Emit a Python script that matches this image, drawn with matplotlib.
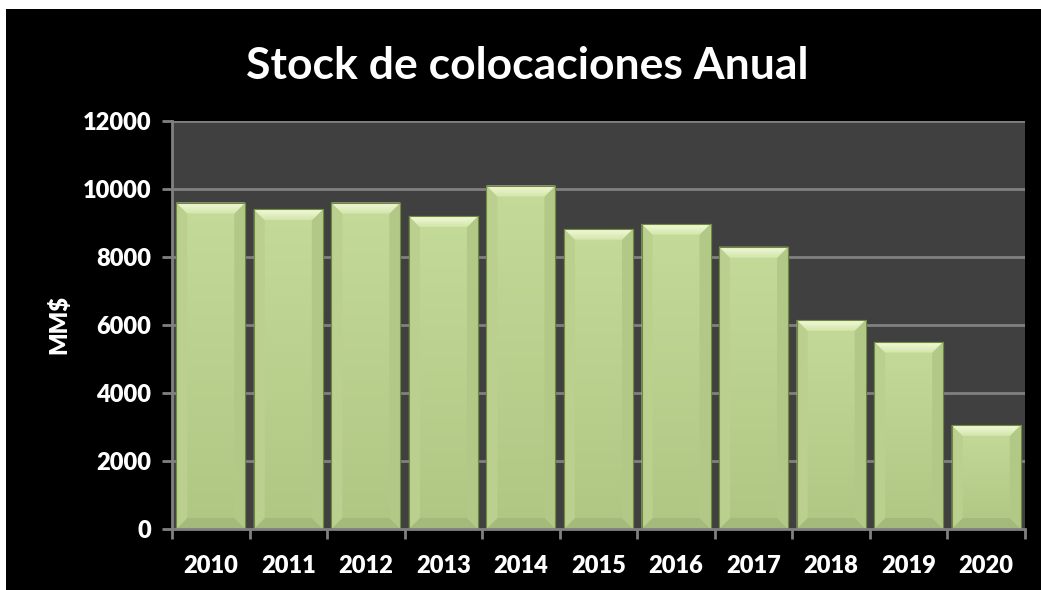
import numpy as np
import matplotlib.pyplot as plt
from matplotlib.patches import Polygon, Rectangle
from matplotlib.colors import LinearSegmentedColormap

years = ['2010', '2011', '2012', '2013', '2014', '2015', '2016', '2017', '2018', '2019', '2020']
stock = [9600, 9400, 9600, 9200, 10100, 8830, 8980, 8300, 6150, 5510, 3060]
yticks = [0, 2000, 4000, 6000, 8000, 10000, 12000]

plt.rcParams['font.family'] = ['Lato', 'DejaVu Sans']
plt.rcParams['font.weight'] = 'bold'

fig = plt.figure(figsize=(10.41, 5.90), dpi=100, facecolor='white')
# black chart area (thin white margin at top and left)
fig.patches.append(Rectangle((6 / 1041, 0), 1, (590 - 9) / 590, transform=fig.transFigure,
                             facecolor='black', edgecolor='none', zorder=-5))

ax = fig.add_axes([172 / 1041, 61 / 590, 853 / 1041, 408 / 590])
ax.set_facecolor('#404040')
ax.set_xlim(-0.5, len(years) - 0.5)
ax.set_ylim(0, 12000)

grid = '#808080'
for v in yticks[1:]:
    ax.axhline(v, color=grid, lw=2, zorder=1)

x = np.arange(len(years))
width = 0.89
bars = ax.bar(x, stock, width=width, color='#c2d795', edgecolor='#6f8a3e', lw=0.8, zorder=2)

# bevel sizes in data units from a pixel size
bev = 11
ax_w = 853
ax_h = 408
dx = bev / ax_w * len(years)
dy = bev / ax_h * 12000

cmap = LinearSegmentedColormap.from_list('g', ['#c4da98', '#b0c784'])
topmap = LinearSegmentedColormap.from_list('t', ['#f4fadb', '#d2e5aa'])
for b in bars:
    x0 = b.get_x()
    x1 = x0 + b.get_width()
    h = b.get_height()
    grad = np.linspace(0, 1, 100).reshape(-1, 1)
    im = ax.imshow(grad, extent=[x0, x1, 0, h], origin='upper', aspect='auto',
                   cmap=cmap, zorder=2.1)
    im.set_clip_path(b)
    top = Polygon([(x0, h), (x1, h), (x1 - dx, h - dy), (x0 + dx, h - dy)],
                  closed=True, facecolor='none', edgecolor='none', zorder=2.2)
    ax.add_patch(top)
    tim = ax.imshow(grad, extent=[x0, x1, h - dy, h], origin='upper', aspect='auto',
                    cmap=topmap, zorder=2.25)
    tim.set_clip_path(top)
    bottom = Polygon([(x0, 0), (x1, 0), (x1 - dx, dy), (x0 + dx, dy)],
                     closed=True, facecolor='#a3ba7c', edgecolor='none', zorder=2.2)
    left = Polygon([(x0, 0), (x0 + dx, dy), (x0 + dx, h - dy), (x0, h)],
                   closed=True, facecolor='#bbd08f', edgecolor='none', zorder=2.2)
    right = Polygon([(x1, 0), (x1 - dx, dy), (x1 - dx, h - dy), (x1, h)],
                    closed=True, facecolor='#b2c887', edgecolor='none', zorder=2.2)
    for p in (bottom, left, right):
        ax.add_patch(p)
    ax.add_patch(Rectangle((x0, 0), x1 - x0, h, facecolor='none', edgecolor='#6f8a3e',
                           lw=0.8, zorder=2.3))

for s in ('top', 'right'):
    ax.spines[s].set_visible(False)
for s in ('left', 'bottom'):
    ax.spines[s].set_color(grid)
    ax.spines[s].set_linewidth(2)
    ax.spines[s].set_zorder(3)

ax.set_yticks(yticks)
ax.set_yticklabels([str(v) for v in yticks], fontweight='heavy')
ax.tick_params(axis='y', colors=grid, length=7, width=2, direction='out', pad=8,
               labelcolor='white', labelsize=17)

ax.set_xticks(np.arange(len(years) + 1) - 0.5)
ax.set_xticklabels([])
ax.tick_params(axis='x', which='major', colors=grid, length=7, width=2, direction='out')
ax.set_xticks(x, minor=True)
ax.set_xticklabels(years, minor=True, fontweight='heavy')
ax.tick_params(axis='x', which='minor', length=0, pad=19, labelcolor='white', labelsize=17)

ax.set_ylabel('MM$', color='white', fontsize=17, fontweight='heavy', labelpad=9)

fig.text(527 / 1041, 1 - 66 / 590, 'Stock de colocaciones Anual', color='white',
         fontsize=32, fontweight='bold', ha='center', va='center')

fig.savefig('out.png', dpi=100, facecolor=fig.get_facecolor())
